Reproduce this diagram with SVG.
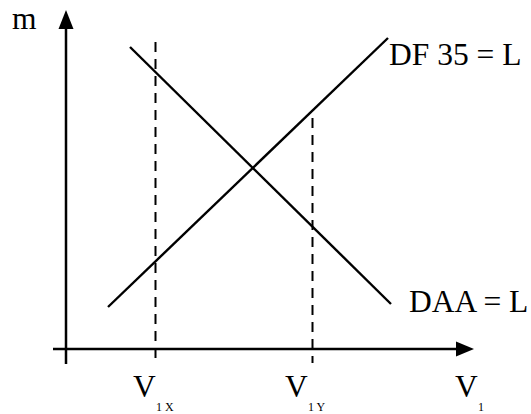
<svg xmlns="http://www.w3.org/2000/svg" width="531" height="414" viewBox="0 0 531 414">
<style>
.ax{stroke:#000;stroke-width:2.5;fill:none}
.ln{stroke:#000;stroke-width:2.4;fill:none}
.ds{stroke:#000;stroke-width:2;fill:none;stroke-dasharray:10 7}
.t{font-family:"Liberation Serif","Times New Roman",serif;font-size:31.5px;fill:#000}
.s{font-family:"Liberation Serif","Times New Roman",serif;font-size:12px;fill:#000}
</style>
<rect width="531" height="414" fill="#fff"/>
<g id="axes">
<line class="ax" x1="66" y1="364" x2="66" y2="26"/>
<polygon points="66,10 58.5,29 73.5,29" fill="#000"/>
<line class="ax" x1="53" y1="349" x2="458" y2="349"/>
<polygon points="474,349 456,341.5 456,356.5" fill="#000"/>
</g>
<g id="connectors">
<line class="ds" x1="155.5" y1="42" x2="155.5" y2="363"/>
<line class="ds" x1="312.5" y1="118" x2="312.5" y2="363"/>
<line class="ln" x1="108" y1="307" x2="388" y2="38"/>
<line class="ln" x1="130" y1="47" x2="391" y2="304"/>
</g>
<g id="labels">
<text class="t" x="12" y="29">m</text>
<text class="t" x="389" y="65">DF 35 = L</text>
<text class="t" x="409" y="312">DAA = L</text>
<text class="t" x="133" y="397">V</text>
<text class="s" x="156" y="411">1 X</text>
<text class="t" x="285" y="397">V</text>
<text class="s" x="308" y="411">1 Y</text>
<text class="t" x="455" y="397">V</text>
<text class="s" x="478" y="411">1</text>
</g>
</svg>
